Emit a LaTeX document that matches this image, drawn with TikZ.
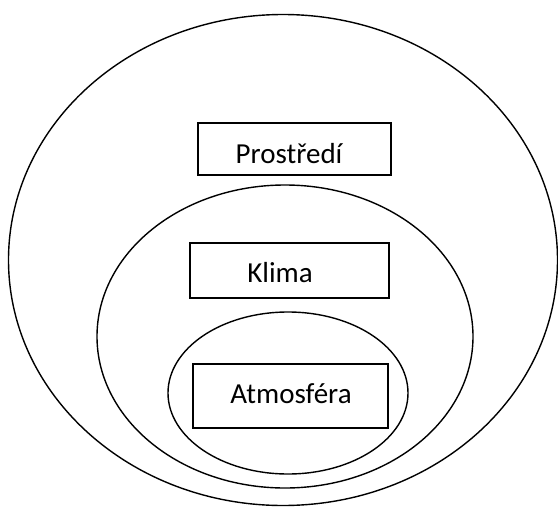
\documentclass[tikz,border=0pt]{standalone}
\usepackage{fontspec}
\setmainfont{Carlito}
\begin{document}
\begin{tikzpicture}[x=1pt,y=-1pt,
  ring/.style={draw=black,line width=1.4pt},
  tbox/.style={draw=black,line width=1.1pt,rectangle,inner sep=0pt},
  lbl/.style={anchor=base,inner sep=0pt,font=\fontsize{29}{34}\selectfont}]
\useasboundingbox (0,0) rectangle (558,507);
\draw[ring] (283,260) ellipse [x radius=274.5, y radius=245.5];
\draw[ring] (285,336.5) ellipse [x radius=188, y radius=151.5];
\draw[ring] (288,393) ellipse [x radius=120, y radius=81];
\node[tbox,minimum width=193pt,minimum height=52pt] (bp) at (294.5,149) {};
\node[tbox,minimum width=199pt,minimum height=55pt] (bk) at (289.5,270.5) {};
\node[tbox,minimum width=195pt,minimum height=64pt] (ba) at (290.5,396) {};
\node[lbl] (tp) at (289,163) {Prostředí};
\node[lbl] (tk) at (280,282) {Klima};
\node[lbl] (ta) at (291,403) {Atmosféra};
\end{tikzpicture}
\end{document}
